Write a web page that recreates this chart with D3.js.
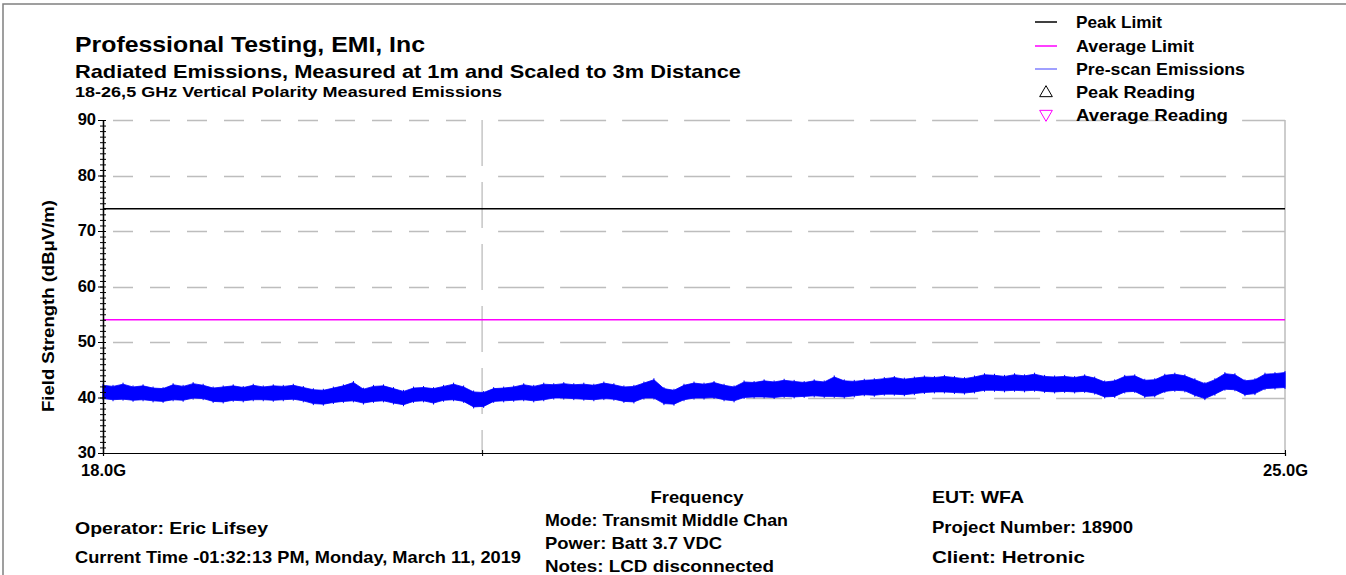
<!DOCTYPE html>
<html>
<head>
<meta charset="utf-8">
<script src="https://cdn.jsdelivr.net/npm/d3@7/dist/d3.min.js"></script>
<style>
  html, body { margin: 0; padding: 0; background: #fff; }
  svg { display: block; }
  text { font-family: "Liberation Sans", Arial, sans-serif; font-weight: bold; fill: #000; }
</style>
</head>
<body>
<svg id="chart" width="1346" height="575"></svg>
<script>
// ---------------- DATA ----------------
const freqRange = [18.0, 25.0];           // GHz
const xTickValues = [18, 20, 25];
const xTickLabels = ["18.0G", "", "25.0G"];
const yDomain = [30, 90];
const yTickValues = [30, 40, 50, 60, 70, 80, 90];
const peakLimit = 74;       // dBµV/m
const averageLimit = 54;    // dBµV/m

// Pre-scan emissions: upper and lower edge of the noisy trace (dBµV/m), evenly across the sweep
const scanHigh = [
  42.2,42.0,42.4,41.9,42.1,41.7,41.6,42.3,42.0,42.5,42.2,41.7,41.9,42.1,41.8,42.2,41.9,42.1,42.0,42.2,
  41.8,41.4,41.3,41.7,42.1,42.7,41.5,42.0,42.1,41.6,41.1,41.7,41.8,41.6,42.0,42.4,41.9,41.0,40.9,41.6,
  41.7,41.9,42.3,42.0,42.4,42.3,42.5,42.3,42.4,42.2,42.6,42.3,41.9,42.0,42.6,43.2,41.6,41.3,42.2,42.6,
  42.4,42.7,42.2,41.9,42.8,42.7,43.0,42.8,43.1,42.9,42.7,43.0,42.8,43.7,43.0,42.9,43.1,43.2,43.4,43.6,
  43.3,43.5,43.7,43.6,43.8,43.6,43.4,43.7,44.1,44.0,43.8,44.1,43.9,44.2,43.8,43.7,43.8,43.6,43.9,43.5,
  42.8,43.0,43.8,43.9,43.1,43.2,44.0,44.2,43.9,43.2,42.5,43.2,44.3,44.1,43.0,43.2,44.2,44.3,44.5
];
const scanLow = [
  39.8,39.6,39.7,39.5,39.6,39.4,39.3,39.6,39.5,39.9,39.8,39.3,39.2,39.5,39.4,39.6,39.6,39.5,39.6,39.7,
  39.4,38.9,38.8,39.1,39.3,39.4,39.0,39.3,39.4,39.0,38.7,39.3,39.4,39.0,39.5,39.6,39.3,38.3,38.4,39.3,
  39.4,39.5,39.6,39.4,39.6,39.9,39.9,39.8,39.7,39.6,39.8,39.7,39.3,39.2,39.9,39.9,38.9,38.8,39.6,39.9,
  39.9,40.0,39.6,39.4,40.0,40.1,40.1,40.0,40.2,40.1,40.2,40.3,40.2,40.2,40.1,40.3,40.5,40.4,40.6,40.6,
  40.5,40.7,40.9,41.0,41.0,40.9,40.8,41.0,41.3,41.3,41.2,41.3,41.2,41.3,41.1,41.0,41.1,41.0,41.1,40.8,
  40.1,40.2,41.0,41.1,40.2,40.3,41.1,41.3,41.2,40.4,39.8,40.6,41.5,41.4,40.5,40.7,41.6,41.7,41.8
];

const legendLabels = ["Peak Limit", "Average Limit", "Pre-scan Emissions", "Peak Reading", "Average Reading"];

const titleLines = [
  "Professional Testing, EMI, Inc",
  "Radiated Emissions, Measured at 1m and Scaled to 3m Distance",
  "18-26,5 GHz Vertical Polarity Measured Emissions"
];
const xAxisTitle = "Frequency";
const yAxisTitle = "Field Strength (dBμV/m)";
const leftNotes = ["Operator: Eric Lifsey", "Current Time -01:32:13 PM, Monday, March 11, 2019"];
const midNotes = ["Mode: Transmit Middle Chan", "Power: Batt 3.7 VDC", "Notes: LCD disconnected"];
const rightNotes = ["EUT: WFA", "Project Number: 18900", "Client: Hetronic"];

// ---------------- DRAW ----------------
const svg = d3.select("#chart");
const plot = { left: 103, right: 1285, top: 120, bottom: 453 };

const x = d3.scaleLog().domain(freqRange).range([plot.left, plot.right]);
const y = d3.scaleLinear().domain(yDomain).range([plot.bottom, plot.top]);

// outer frame
svg.append("rect").attr("x", 3).attr("y", 4).attr("width", 1400).attr("height", 700)
  .attr("fill", "none").attr("stroke", "#808080").attr("stroke-width", 1.5);

// title
const titleSizes = [22.5, 19, 15];
const titleY = [52, 78, 97];
const titleW = [350, 666, 427];
titleLines.forEach((t, i) => {
  svg.append("text").attr("x", 75).attr("y", titleY[i])
    .attr("font-size", titleSizes[i])
    .attr("textLength", titleW[i]).attr("lengthAdjust", "spacingAndGlyphs")
    .text(t);
});

// grid
const gridColor = "#bdbdbd";
const gx20 = x(20);
[40, 50, 60, 70, 80, 90].forEach(v => {
  const gy = Math.round(y(v)) + 0.5;
  svg.append("line").attr("x1", plot.left + 4).attr("x2", gx20)
    .attr("y1", gy).attr("y2", gy)
    .attr("stroke", gridColor).attr("stroke-width", 1.3).attr("stroke-dasharray", "20,17")
    .attr("stroke-dashoffset", -6);
  svg.append("line").attr("x1", gx20).attr("x2", plot.right)
    .attr("y1", gy).attr("y2", gy)
    .attr("stroke", gridColor).attr("stroke-width", 1.3).attr("stroke-dasharray", "46,16")
    .attr("stroke-dashoffset", -16);
});
svg.append("line").attr("x1", gx20).attr("x2", gx20).attr("y1", plot.top).attr("y2", plot.bottom)
  .attr("stroke", gridColor).attr("stroke-width", 1.3).attr("stroke-dasharray", "46,16");
svg.append("line").attr("x1", plot.right).attr("x2", plot.right).attr("y1", plot.top).attr("y2", plot.bottom)
  .attr("stroke", gridColor).attr("stroke-width", 1.5);

// limits
svg.append("line").attr("x1", plot.left).attr("x2", plot.right)
  .attr("y1", y(peakLimit)).attr("y2", y(peakLimit))
  .attr("stroke", "#000").attr("stroke-width", 1.5);
svg.append("line").attr("x1", plot.left).attr("x2", plot.right)
  .attr("y1", y(averageLimit)).attr("y2", y(averageLimit))
  .attr("stroke", "#ff00ff").attr("stroke-width", 1.5);

// pre-scan trace (band between low and high edges)
const n = scanHigh.length;
const logF = d3.scaleLinear().domain([0, n - 1]).range([Math.log(freqRange[0]), Math.log(freqRange[1])]);
const scan = scanHigh.map((h, i) => ({ f: Math.exp(logF(i)), hi: h, lo: scanLow[i] }));
const area = d3.area().x(d => x(d.f)).y0(d => y(d.lo)).y1(d => y(d.hi)).curve(d3.curveLinear);
svg.append("path").datum(scan).attr("d", area)
  .attr("fill", "#0000ff").attr("stroke", "#0000ff").attr("stroke-width", 0.8)
  .attr("stroke-linejoin", "miter");
svg.append("g").selectAll("line").data(scan).join("line")
  .attr("x1", d => x(d.f)).attr("x2", d => x(d.f))
  .attr("y1", d => y(d.lo) + 1.5).attr("y2", d => y(d.hi) - 1.5)
  .attr("stroke", "#0000ff").attr("stroke-width", 1);

// y axis
const yMinor = d3.range(yDomain[0], yDomain[1] + 1, 1);
const yAxisG = svg.append("g").attr("transform", `translate(${plot.left},0)`);
yAxisG.call(d3.axisLeft(y).tickValues(yMinor).tickSize(3).tickFormat(""));
const yAxisG2 = svg.append("g").attr("transform", `translate(${plot.left},0)`);
yAxisG2.call(d3.axisRight(y).tickValues(yMinor).tickSize(3).tickFormat(""));
const yAxisG3 = svg.append("g").attr("transform", `translate(${plot.left},0)`);
yAxisG3.call(d3.axisLeft(y).tickValues(yTickValues).tickSize(5).tickPadding(2).tickFormat(d3.format("d")));
[yAxisG, yAxisG2, yAxisG3].forEach(g => {
  g.selectAll("path").attr("stroke", "#000").attr("stroke-width", 1.2);
  g.selectAll("line").attr("stroke", "#000").attr("stroke-width", 1);
});
yAxisG3.selectAll("text").attr("font-size", 16.5).attr("font-family", "Liberation Sans, Arial, sans-serif")
  .attr("font-weight", "bold").attr("fill", "#000").attr("dy", "0.30em");

// x axis
const xAxisG = svg.append("g").attr("transform", `translate(0,${plot.bottom})`);
xAxisG.call(d3.axisBottom(x).tickValues(xTickValues).tickSize(3).tickPadding(3)
  .tickFormat((d, i) => xTickLabels[i]));
xAxisG.select("path").attr("stroke", "#000").attr("stroke-width", 1.2);
xAxisG.selectAll("line").attr("stroke", "#000").attr("transform", "translate(0,-3)").attr("y2", 6);
xAxisG.selectAll("text").attr("font-size", 16.5).attr("font-family", "Liberation Sans, Arial, sans-serif")
  .attr("font-weight", "bold").attr("fill", "#000").attr("y", 17).attr("dy", "0.36em");

// axis titles
svg.append("text").attr("transform", "translate(54,306) rotate(-90)")
  .attr("text-anchor", "middle").attr("font-size", 16.5)
  .attr("textLength", 212).attr("lengthAdjust", "spacingAndGlyphs")
  .text(yAxisTitle);
svg.append("text").attr("x", 697).attr("y", 503).attr("text-anchor", "middle")
  .attr("font-size", 16.5).attr("textLength", 93).attr("lengthAdjust", "spacingAndGlyphs")
  .text(xAxisTitle);

// legend
const legendColors = ["#000000", "#ff00ff", "#8080ff"];
const legendY = [22, 46, 69, 92, 115];
const legendW = [86, 118, 169, 119, 152];
legendLabels.forEach((t, i) => {
  const ly = legendY[i];
  if (i < 3) {
    svg.append("line").attr("x1", 1035).attr("x2", 1057).attr("y1", ly).attr("y2", ly)
      .attr("stroke", legendColors[i]).attr("stroke-width", 1.5);
  } else if (i === 3) {
    svg.append("path").attr("d", d3.symbol().type(d3.symbolTriangle).size(70)())
      .attr("transform", `translate(1046,${ly + 1})`).attr("fill", "none").attr("stroke", "#000").attr("stroke-width", 1);
  } else {
    svg.append("path").attr("d", d3.symbol().type(d3.symbolTriangle).size(70)())
      .attr("transform", `translate(1046,${ly - 1}) rotate(180)`).attr("fill", "none").attr("stroke", "#ff00ff").attr("stroke-width", 1);
  }
  svg.append("text").attr("x", 1076).attr("y", ly).attr("dy", "0.35em")
    .attr("font-size", 16.5).attr("textLength", legendW[i]).attr("lengthAdjust", "spacingAndGlyphs")
    .text(t);
});

// notes
const leftY = [534, 563], leftW = [193, 446];
leftNotes.forEach((t, i) => svg.append("text").attr("x", 75).attr("y", leftY[i]).attr("font-size", 16.5)
  .attr("textLength", leftW[i]).attr("lengthAdjust", "spacingAndGlyphs").text(t));
const midY = [526, 549, 572], midW = [243, 177, 229];
midNotes.forEach((t, i) => svg.append("text").attr("x", 545).attr("y", midY[i]).attr("font-size", 16.5)
  .attr("textLength", midW[i]).attr("lengthAdjust", "spacingAndGlyphs").text(t));
const rightY = [503, 533, 563], rightW = [92, 201, 153];
rightNotes.forEach((t, i) => svg.append("text").attr("x", 932).attr("y", rightY[i]).attr("font-size", 16.5)
  .attr("textLength", rightW[i]).attr("lengthAdjust", "spacingAndGlyphs").text(t));
</script>
</body>
</html>
